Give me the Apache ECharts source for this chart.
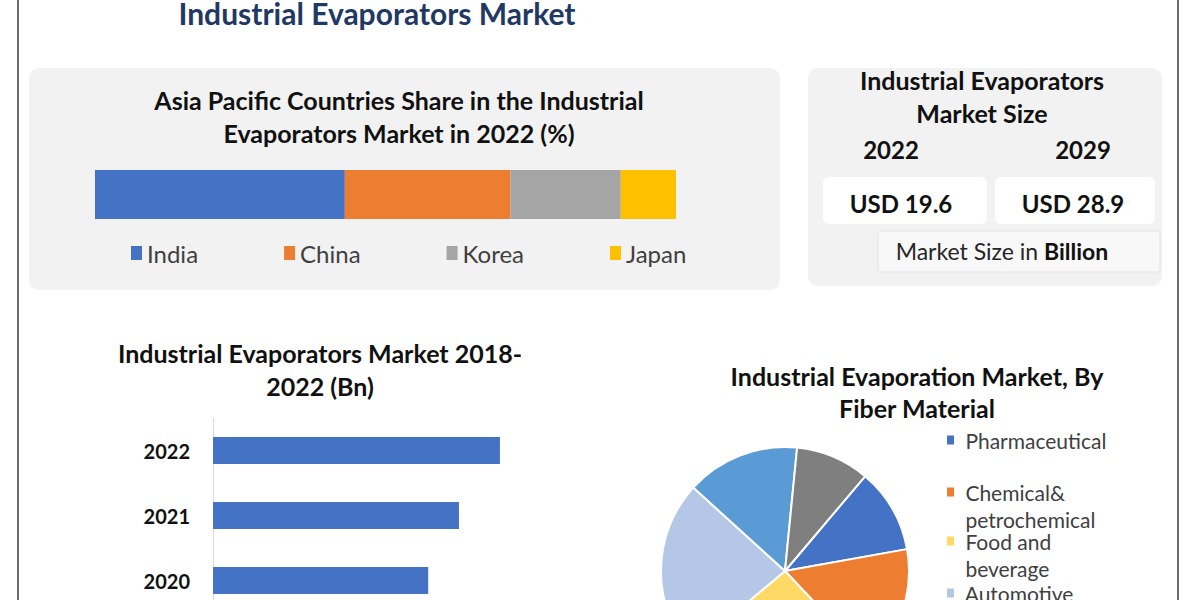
<!DOCTYPE html>
<html>
<head>
<meta charset="utf-8">
<script src="https://cdn.jsdelivr.net/npm/echarts@6/dist/echarts.min.js"></script>
<style>
html,body{margin:0;padding:0;background:#fff;overflow:hidden;}
#chart{width:1200px;height:600px;}
</style>
</head>
<body>
<div id="chart"></div>
<script>
// ---- data ----
const mainTitle = 'Industrial Evaporators Market';
const shareTitle = 'Asia Pacific Countries Share in the Industrial\nEvaporators Market in 2022 (%)';
const shareCountries = ['India', 'China', 'Korea', 'Japan'];
const shareValues = [43, 28.5, 19, 9.5];
const sizeTitle = 'Industrial Evaporators\nMarket Size';
const sizeYears = ['2022', '2029'];
const sizeValues = ['USD 19.6', 'USD 28.9'];
const sizeUnitText = 'Market Size in ';
const sizeUnitBold = 'Billion';
const barTitle = 'Industrial Evaporators Market 2018-\n2022 (Bn)';
const barYears = ['2018', '2019', '2020', '2021', '2022'];
const barValues = [12.6, 13.6, 14.7, 16.8, 19.6];
const pieTitle = 'Industrial Evaporation Market, By\nFiber Material';
const pieNames = ['Pharmaceutical', 'Chemical& petrochemical', 'Food and beverage', 'Automotive', 'Electronics & semiconductor', 'Others'];
const pieLegendLines = [['Pharmaceutical'], ['Chemical&', 'petrochemical'], ['Food and', 'beverage'], ['Automotive'], ['Electronics &', 'semiconductor'], ['Others']];
const pieValues = [11.0, 15.8, 25.9, 22.8, 14.8, 9.6];

// ---- styles ----
const shareColors = ['#4472C4', '#ED7D31', '#A5A5A5', '#FFC000'];
const pieColors = ['#4472C4', '#ED7D31', '#FFD966', '#B4C7E7', '#5B9BD5', '#7F7F7F'];
const FONT = 'Lato, "Open Sans", sans-serif';

const chart = echarts.init(document.getElementById('chart'), null, {renderer: 'svg'});

function txt(text, x, y, size, weight, color, lh) {
  return {
    type: 'text', z: 20,
    style: {
      text: text, x: x, y: y, align: 'center', verticalAlign: 'middle',
      fontSize: size, fontWeight: weight, fontFamily: FONT, fill: color,
      lineHeight: lh || size * 1.4
    }
  };
}

const shareSeries = shareCountries.map((name, i) => ({
  name: name, type: 'bar', stack: 'share',
  xAxisIndex: 0, yAxisIndex: 0,
  barWidth: 49,
  itemStyle: {color: shareColors[i]},
  data: [shareValues[i]]
}));

// pie legends: one small legend per item (first text line aligned to icon)
const pieIconTops = [440, 492, 541, 593, 644, 696];
const LH = 27;
const pieLegends = pieNames.map((name, i) => {
  const lines = pieLegendLines[i];
  const multi = lines.length > 1;
  return {
    orient: 'vertical', left: 945,
    top: multi ? pieIconTops[i] - 1.5 * LH : pieIconTops[i] - LH / 2,
    padding: 0, itemWidth: 9, itemHeight: 11, icon: 'rect',
    selectedMode: false,
    data: [name],
    formatter: () => multi ? '\n ' + lines[0] + '\n ' + lines[1] : ' ' + lines[0],
    textStyle: {fontSize: 21, fontFamily: FONT, color: '#404040', lineHeight: LH}
  };
});

const option = {
  backgroundColor: '#ffffff',
  animation: false,
  color: pieColors,
  legend: [
    {
      left: 131, top: 241, padding: 0, itemWidth: 11, itemHeight: 14, itemGap: 86,
      icon: 'rect', selectedMode: false,
      data: shareCountries,
      textStyle: {fontSize: 24, fontFamily: FONT, color: '#404040'}
    }
  ].concat(pieLegends),
  grid: [
    {left: 95, top: 170, width: 581, height: 49, containLabel: false, outerBoundsMode: 'none'},
    {left: 213, top: 418, width: 366, height: 325, containLabel: false, outerBoundsMode: 'none'}
  ],
  xAxis: [
    {gridIndex: 0, type: 'value', min: 0, max: 100, show: false},
    {gridIndex: 1, type: 'value', min: 0, max: 25, show: false}
  ],
  yAxis: [
    {gridIndex: 0, type: 'category', data: ['2022'], show: false},
    {
      gridIndex: 1, type: 'category', data: barYears,
      axisLine: {show: true, lineStyle: {color: '#d9d9d9', width: 1}},
      axisTick: {show: false},
      axisLabel: {margin: 23, fontSize: 20, fontWeight: 'bold', fontFamily: FONT, color: '#111'},
      splitLine: {show: false}
    }
  ],
  series: shareSeries.concat([
    {
      name: 'Market', type: 'bar', xAxisIndex: 1, yAxisIndex: 1,
      barWidth: 27, itemStyle: {color: '#4472C4'},
      data: barValues
    },
    {
      name: 'Segments', type: 'pie', center: [785, 571], radius: 124,
      startAngle: 49.8, clockwise: true,
      label: {show: false}, labelLine: {show: false},
      itemStyle: {borderColor: '#ffffff', borderWidth: 2},
      emphasis: {disabled: true},
      data: pieNames.map((n, i) => ({name: n, value: pieValues[i], itemStyle: {color: pieColors[i]}}))
    }
  ]),
  graphic: [
    {type: 'line', z: 1, shape: {x1: 18, y1: 0, x2: 18, y2: 600}, style: {stroke: '#3c3c3c', lineWidth: 1.5}},
    {type: 'line', z: 1, shape: {x1: 1178, y1: 0, x2: 1178, y2: 600}, style: {stroke: '#3c3c3c', lineWidth: 1.5}},
    {type: 'rect', z: -10, shape: {x: 29, y: 68, width: 751, height: 222, r: 10}, style: {fill: '#f2f2f2'}},
    {type: 'rect', z: -10, shape: {x: 808, y: 68, width: 354, height: 218, r: 10}, style: {fill: '#f2f2f2'}},
    {type: 'rect', z: -5, shape: {x: 823, y: 177, width: 164, height: 47, r: 6}, style: {fill: '#ffffff'}},
    {type: 'rect', z: -5, shape: {x: 995, y: 177, width: 160, height: 47, r: 6}, style: {fill: '#ffffff'}},
    {type: 'rect', z: -5, shape: {x: 878, y: 231, width: 282, height: 41, r: 2}, style: {fill: '#f8f8f8', stroke: '#e4e4e4', lineWidth: 1}},
    txt(mainTitle, 377, 13, 30, 'bold', '#1F3864'),
    txt(shareTitle, 399, 116, 25, 'bold', '#111', 33),
    txt(sizeTitle, 982, 96, 25, 'bold', '#111', 33),
    txt(sizeYears[0], 891, 149, 24, 'bold', '#111'),
    txt(sizeYears[1], 1083, 149, 24, 'bold', '#111'),
    txt(sizeValues[0], 901, 203, 24, 'bold', '#111'),
    txt(sizeValues[1], 1073, 203, 24, 'bold', '#111'),
    {
      type: 'text', z: 20,
      style: {
        text: '{r|' + sizeUnitText + '}{b|' + sizeUnitBold + '}',
        x: 1002, y: 251, align: 'center', verticalAlign: 'middle',
        rich: {
          r: {fontSize: 23, fontFamily: FONT, fontWeight: 'normal', fill: '#262626'},
          b: {fontSize: 23, fontFamily: FONT, fontWeight: 'bold', fill: '#111'}
        }
      }
    },
    txt(barTitle, 320, 369, 25, 'bold', '#111', 33),
    txt(pieTitle, 917, 392, 25, 'bold', '#111', 32)
  ]
};

chart.setOption(option);
</script>
</body>
</html>
